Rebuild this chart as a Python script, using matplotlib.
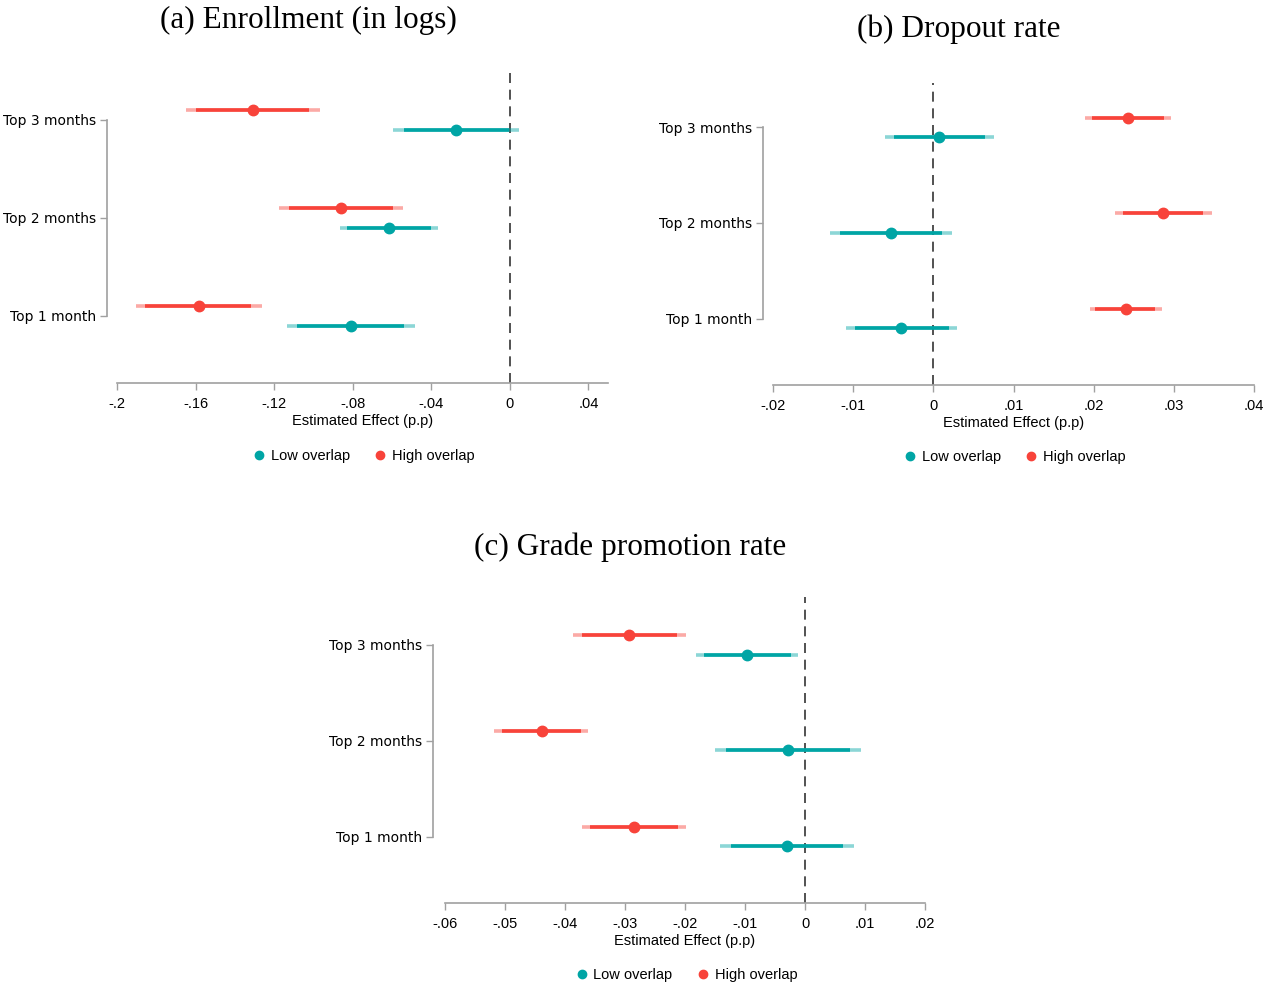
import numpy as np
import matplotlib.pyplot as plt

#data
labels=['Top 1 month','Top 2 months','Top 3 months']
series=['Low overlap','High overlap']

# (a) Enrollment (in logs): point, 90% ci, 95% ci  (order: Top 1, Top 2, Top 3)
a_low=[-0.081,-0.0615,-0.0272]
a_low_ci90=[(-0.1083,-0.0538),(-0.0827,-0.0403),(-0.054,-0.0006)]
a_low_ci95=[(-0.1135,-0.0484),(-0.0865,-0.0365),(-0.0593,0.0046)]
a_high=[-0.1585,-0.0859,-0.1308]
a_high_ci90=[(-0.1857,-0.1317),(-0.1123,-0.0595),(-0.1597,-0.1022)]
a_high_ci95=[(-0.1905,-0.1264),(-0.1173,-0.0546),(-0.1651,-0.0966)]

# (b) Dropout rate
b_low=[-0.004,-0.0053,0.0007]
b_low_ci90=[(-0.0098,0.0019),(-0.0117,0.0011),(-0.0049,0.0065)]
b_low_ci95=[(-0.0109,0.0029),(-0.0129,0.0023),(-0.006,0.0076)]
b_high=[0.024,0.0287,0.0243]
b_high_ci90=[(0.0202,0.0277),(0.0237,0.0337),(0.0198,0.0288)]
b_high_ci95=[(0.0195,0.0285),(0.0227,0.0347),(0.0189,0.0297)]

# (c) Grade promotion rate
c_low=[-0.003,-0.0028,-0.0096]
c_low_ci90=[(-0.0124,0.0063),(-0.0131,0.0075),(-0.0169,-0.0024)]
c_low_ci95=[(-0.0142,0.0081),(-0.015,0.0094),(-0.0182,-0.0011)]
c_high=[-0.0285,-0.0439,-0.0293]
c_high_ci90=[(-0.0358,-0.0212),(-0.0505,-0.0374),(-0.0372,-0.0213)]
c_high_ci95=[(-0.0372,-0.0198),(-0.0519,-0.0361),(-0.0387,-0.0198)]

a_ticks=[-0.2,-0.16,-0.12,-0.08,-0.04,0,0.04]
a_ticklabels=['-.2','-.16','-.12','-.08','-.04','0','.04']
b_ticks=[-0.02,-0.01,0,0.01,0.02,0.03,0.04]
b_ticklabels=['-.02','-.01','0','.01','.02','.03','.04']
c_ticks=[-0.06,-0.05,-0.04,-0.03,-0.02,-0.01,0,0.01,0.02]
c_ticklabels=['-.06','-.05','-.04','-.03','-.02','-.01','0','.01','.02']

teal='#00A5A5'
red='#F8433A'
sans='Liberation Sans'
serif='Liberation Serif'

W,H=1277,985
fig=plt.figure(figsize=(W/100,H/100),dpi=100)

def make_ax(x0,x1,ytop,ybot):
    return fig.add_axes([x0/W,1-ybot/H,(x1-x0)/W,(ybot-ytop)/H])

def coefplot(ax,low,low90,low95,high,high90,high95,xlim,ylim,ticks,ticklabels,spine_px,leg_y):
    y=np.arange(1,len(labels)+1)
    for vals,c90,c95,col,off,name in [(high,high90,high95,red,0.1,series[1]),
                                     (low,low90,low95,teal,-0.1,series[0])]:
        for i in range(len(y)):
            ax.plot(c95[i],[y[i]+off]*2,color=col,alpha=0.45,lw=2.6,solid_capstyle='butt',zorder=2)
            ax.plot(c90[i],[y[i]+off]*2,color=col,lw=2.6,solid_capstyle='butt',zorder=3)
        ax.plot(vals,y+off,'o',color=col,ms=7.5,ls='none',zorder=4,label=name)
    ax.axvline(0,color='#333333',lw=1.2,ls=(0,(6,4)),zorder=1)
    ax.set_xlim(*xlim)
    ax.set_ylim(*ylim)
    ax.set_yticks(y)
    ax.set_yticklabels(labels,fontsize=9.9,family=sans)
    ax.set_xticks(ticks)
    ax.set_xticklabels(ticklabels,fontsize=10.5,family=sans)
    ax.set_xlabel('Estimated Effect (p.p)',fontsize=10.5,family=sans,labelpad=2)
    for s in ['top','right']:
        ax.spines[s].set_visible(False)
    ax.spines['left'].set_bounds(1,3)
    ax.spines['left'].set_position(('outward',spine_px*0.72))
    for s in ['left','bottom']:
        ax.spines[s].set_color('#A0A0A0')
        ax.spines[s].set_linewidth(1.2)
    ax.tick_params(axis='both',colors='#A0A0A0',labelcolor='black',length=5,width=1.0)
    ax.tick_params(axis='x',pad=5)
    ax.tick_params(axis='y',pad=3)
    # legend centre given in figure pixels
    bb=ax.get_position()
    ly=(1-leg_y/H-bb.y0)/bb.height
    handles,lbls=ax.get_legend_handles_labels()
    order=[lbls.index(series[0]),lbls.index(series[1])]
    ax.legend([handles[k] for k in order],[lbls[k] for k in order],loc='center',
              bbox_to_anchor=(0.5,ly),ncol=2,frameon=False,
              prop={'family':sans,'size':10.5},handletextpad=0.2,columnspacing=1.5,
              markerscale=0.8,handlelength=1.2,borderpad=0)
    return ax

ax1=make_ax(117,608,73,383)
coefplot(ax1,a_low,a_low_ci90,a_low_ci95,a_high,a_high_ci90,a_high_ci95,
         (-0.2,0.05),(0.313,3.48),a_ticks,a_ticklabels,10,456)
fig.text(308/W,1-20/H,'(a) Enrollment (in logs)',ha='center',va='center',fontsize=22.5,family=serif)

ax2=make_ax(773,1254,83,385)
coefplot(ax2,b_low,b_low_ci90,b_low_ci95,b_high,b_high_ci90,b_high_ci95,
         (-0.02,0.04),(0.31,3.46),b_ticks,b_ticklabels,10,457)
fig.text(959/W,1-29/H,'(b) Dropout rate',ha='center',va='center',fontsize=22.5,family=serif)

ax3=make_ax(445,925,597,903)
coefplot(ax3,c_low,c_low_ci90,c_low_ci95,c_high,c_high_ci90,c_high_ci95,
         (-0.06,0.02),(0.31,3.5),c_ticks,c_ticklabels,12,975)
fig.text(630/W,1-547/H,'(c) Grade promotion rate',ha='center',va='center',fontsize=22.5,family=serif)

fig.savefig('out.png',dpi=100,facecolor='white')
